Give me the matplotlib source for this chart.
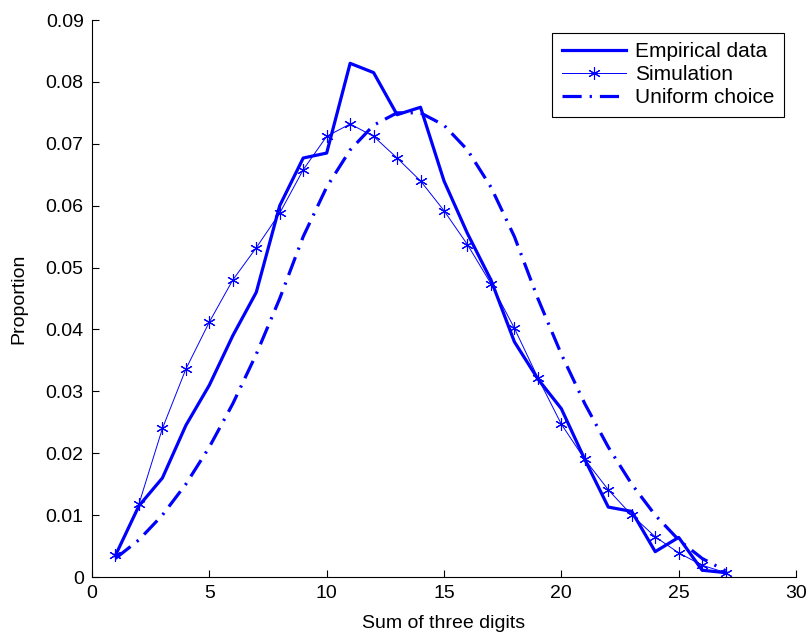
import numpy as np
import matplotlib
matplotlib.use("Agg")
import matplotlib.pyplot as plt

plt.rcParams['font.family'] = ['Liberation Sans', 'DejaVu Sans']

sums = list(range(1, 28))
empirical = [0.0035, 0.0115, 0.016, 0.0245, 0.031, 0.039, 0.046, 0.060, 0.0677,
             0.0685, 0.083, 0.0815, 0.0747, 0.0759, 0.064, 0.0555, 0.048, 0.038,
             0.032, 0.0272, 0.019, 0.0113, 0.0106, 0.0041, 0.0064, 0.0011, 0.0007]
simulation = [0.0035, 0.0118, 0.024, 0.0336, 0.0412, 0.0480, 0.0532, 0.0588, 0.0658,
              0.0712, 0.0732, 0.0712, 0.0677, 0.0640, 0.0592, 0.0537, 0.0474, 0.0402,
              0.0322, 0.0247, 0.0190, 0.0141, 0.0100, 0.0065, 0.0039, 0.0019, 0.0007]
uniform = [0.003, 0.006, 0.010, 0.015, 0.021, 0.028, 0.036, 0.045, 0.055,
           0.063, 0.069, 0.073, 0.075, 0.075, 0.073, 0.069, 0.063, 0.055,
           0.045, 0.036, 0.028, 0.021, 0.015, 0.010, 0.006, 0.003, 0.001]

fig = plt.figure(figsize=(8.12, 6.39), dpi=100)
ax = fig.add_axes([0.1133, 0.097, 0.8670, 0.8717])

ax.plot(sums, empirical, color='blue', lw=2.3, label='Empirical data')
ax.plot(sums, simulation, color='blue', lw=0.7, marker=(6, 2, 0), ms=9,
        mew=0.8, label='Simulation')
ax.plot(sums, uniform, color='blue', lw=2.3, dashes=(6, 2.5, 0.7, 2.5),
        label='Uniform choice')

ax.set_xlim(0, 30)
ax.set_ylim(0, 0.09)
ax.set_xticks(np.arange(0, 31, 5))
ax.set_yticks(np.arange(0, 0.0901, 0.01))
ax.set_yticklabels(['0'] + ['%.2f' % v for v in np.arange(0.01, 0.0901, 0.01)])
ax.tick_params(direction='in', labelsize=14, length=5, pad=6, top=False, right=False)
ax.set_xlabel('Sum of three digits', fontsize=14, labelpad=9)
ax.set_ylabel('Proportion', fontsize=14, labelpad=13)

for s in ['top', 'right']:
    ax.spines[s].set_visible(False)

leg = ax.legend(loc='upper right', fontsize=15, fancybox=False, framealpha=1,
                edgecolor='black', borderaxespad=0.6, handlelength=3.1,
                labelspacing=0.2, borderpad=0.45, handletextpad=0.4)
leg.get_frame().set_linewidth(0.8)

fig.savefig('out.png', dpi=100)
